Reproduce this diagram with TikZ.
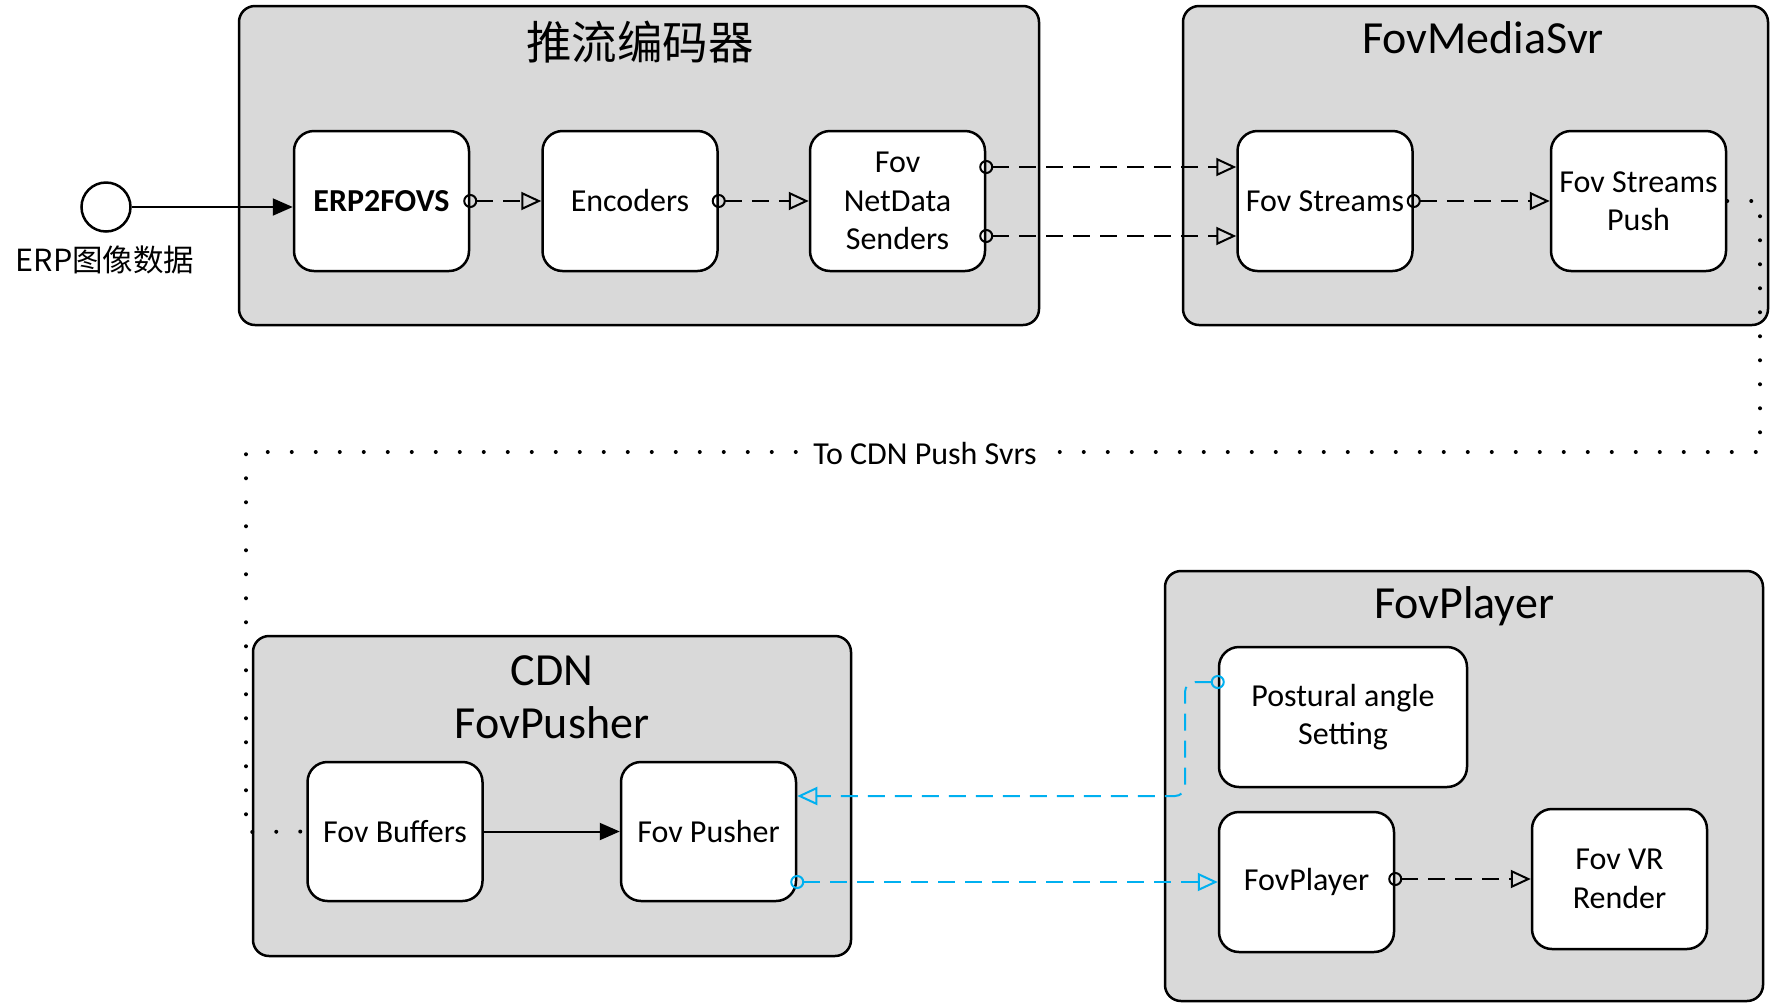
\documentclass[tikz,border=0pt]{standalone}
\usepackage{fontspec}
\setmainfont{Carlito}
\newfontfamily\cjk{Noto Sans CJK SC}
\usetikzlibrary{arrows.meta}
\definecolor{grpfill}{HTML}{D9D9D9}
\definecolor{linkblue}{HTML}{00B0F0}

\tikzset{
  grp/.style={draw, line width=2.5pt, fill=grpfill, rounded corners=16pt, inner sep=0pt},
  unit/.style={draw, line width=2.5pt, fill=white, rounded corners=20pt,
    minimum width=175pt, minimum height=140pt, align=center, inner sep=0pt,
    font=\fontsize{32}{38.5}\selectfont},
  grptitle/.style={font=\fontsize{46}{53}\selectfont, align=center},
  flow/.style={line width=2pt, dash pattern=on 17pt off 10pt,
    {Circle[open,length=14pt,width=14pt]}-{Triangle[open,length=20pt,width=18pt]},
    shorten <=-7pt},
  solidflow/.style={line width=2pt, -{Triangle[length=20pt,width=17pt]}},
  dotline/.style={line width=4pt, line cap=round, dash pattern=on 0pt off 24pt},
}

\begin{document}
\begin{tikzpicture}[x=1pt,y=-1pt]
\useasboundingbox (0,0) rectangle (1770,1005);

% group frames
\node[grp, minimum width=800pt, minimum height=319pt] (gEnc) at (639,165.5) {};
\node[grp, minimum width=585pt, minimum height=319pt] (gMedia) at (1475.5,165.5) {};
\node[grp, minimum width=598pt, minimum height=320pt] (gCdn) at (552,796) {};
\node[grp, minimum width=598pt, minimum height=430pt] (gPlayer) at (1464,786) {};

% group titles
\node[grptitle, font=\cjk\fontsize{45.5}{54}\selectfont] (tEnc) at (640,42) {推流编码器};
\node[grptitle] (tMedia) at (1483,38) {FovMediaSvr};
\node[grptitle] (tCdn) at (552,697) {CDN\\FovPusher};
\node[grptitle] (tPlayer) at (1464,606) {FovPlayer};

% source
\node[draw, circle, line width=2.5pt, fill=white, minimum size=49pt, inner sep=0pt] (src) at (106,207) {};
\node[font=\cjk\fontsize{30.5}{36}\selectfont] (srcLbl) at (105,260) {ERP图像数据};

% processing units
\node[unit, font=\bfseries\fontsize{32}{38.5}\selectfont] (erp) at (381.5,201) {ERP2FOVS};
\node[unit] (enc) at (630,201) {Encoders};
\node[unit] (nds) at (897.5,201) {Fov\\NetData\\Senders};
\node[unit] (fs) at (1325,201) {Fov Streams};
\node[unit] (fsp) at (1638.5,201) {Fov Streams\\Push};
\node[unit, minimum height=139pt] (fb) at (395,831.5) {Fov Buffers};
\node[unit, minimum height=139pt] (fp) at (708.5,831.5) {Fov Pusher};
\node[unit, minimum width=248pt] (pas) at (1343,717) {Postural angle\\Setting};
\node[unit] (fpl) at (1306.5,882) {FovPlayer};
\node[unit] (vr) at (1619.5,879) {Fov VR\\Render};

% links
\draw[solidflow] (src.east) -- (src.east -| erp.west);
\draw[flow] (erp.east) -- (enc.west);
\draw[flow] (enc.east) -- (nds.west);
\draw[flow] (nds.east |- 0,167) -- (fs.west |- 0,167);
\draw[flow] (nds.east |- 0,236) -- (fs.west |- 0,236);
\draw[flow] (fs.east) -- (fsp.west);
\draw[solidflow] (fb.east) -- (fp.west);
\draw[flow] (fpl.east |- vr.west) -- (vr.west);

% player feedback (blue)
\draw[flow, linkblue] (fp.east |- fpl.west) -- (fpl.west);
\draw[flow, linkblue, rounded corners=10pt]
  (pas.west |- 0,682) -- (1185,682) -- (1185,796) -- (fp.east |- 0,796);

% distribution route to CDN
\draw[dotline] (fsp.east) -- (1760,201) -- (1760,452) -- (246,452) -- (246,832) -- (fb.west);
\node[fill=white, inner sep=4pt, font=\fontsize{32}{36}\selectfont] (route) at (925,453) {To CDN Push Svrs};
\end{tikzpicture}
\end{document}
